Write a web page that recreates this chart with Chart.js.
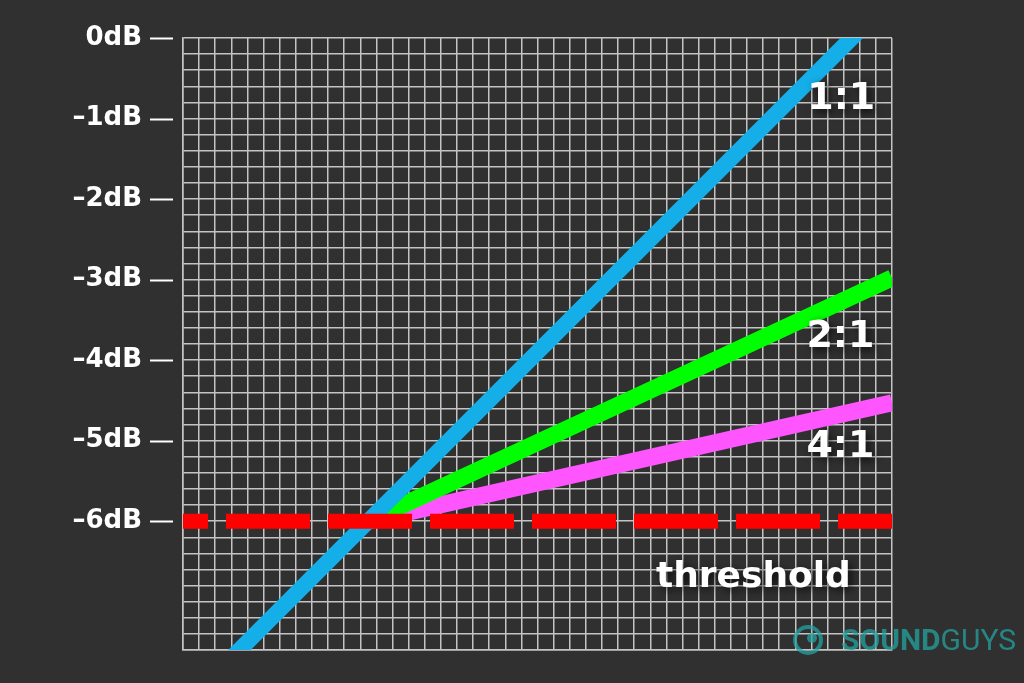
<!DOCTYPE html>
<html lang="en">
<head>
    <meta charset="UTF-8">
    <title>Compression ratios</title>
    <script src="https://cdn.jsdelivr.net/npm/chart.js"></script>
    <style>
        html, body {
            margin: 0;
            padding: 0;
            background: #303030;
        }
        .chart-container {
            width: 1024px;
            height: 683px;
        }
    </style>
</head>
<body>
    <div class="chart-container">
        <canvas id="ratioChart" width="1024" height="683"></canvas>
    </div>

    <script>
        // values (input dB -> output dB)
        const yTickLabels = ['0dB', '–1dB', '–2dB', '–3dB', '–4dB', '–5dB', '–6dB'];
        const unityIn = [-8, -6, 0.4];
        const unityOut = [-8, -6, 0.4];
        const twoToOneIn = [-6, 0.5];
        const twoToOneOut = [-6, -2.98];
        const fourToOneIn = [-6, 0.5];
        const fourToOneOut = [-6, -4.53];
        const thresholdIn = [-8.3, 0.5];
        const thresholdOut = [-6, -6];

        const ratioLabels = ['1:1', '2:1', '4:1', 'threshold'];
        const labelIn = [-0.13, -0.14, -0.14, -1.22];
        const labelOut = [-0.76, -3.71, -5.08, -6.70];

        const xMin = -8.3, xMax = 0.5;
        const yMin = -7.6, yMax = 0;

        function toPoints(xs, ys) {
            return xs.map((x, i) => ({ x: x, y: ys[i] }));
        }

        const gridColor = '#c4c4c4';

        const extras = {
            id: 'extras',
            afterDraw(chart) {
                const ctx = chart.ctx;
                const xs = chart.scales.x;
                const ys = chart.scales.y;
                const left = chart.chartArea.left;

                // short tick dashes next to the dB labels
                ctx.save();
                ctx.strokeStyle = '#ffffff';
                ctx.lineWidth = 2;
                for (let i = 0; i < yTickLabels.length; i++) {
                    const py = Math.round(ys.getPixelForValue(-i)) + 0.5;
                    ctx.beginPath();
                    ctx.moveTo(left - 33, py);
                    ctx.lineTo(left - 10, py);
                    ctx.stroke();
                }
                ctx.restore();

                // series labels
                ctx.save();
                ctx.fillStyle = '#ffffff';
                ctx.textAlign = 'center';
                ctx.textBaseline = 'middle';
                ctx.shadowColor = 'rgba(0,0,0,0.75)';
                ctx.shadowBlur = 8;
                ctx.shadowOffsetX = 3;
                ctx.shadowOffsetY = 3;
                ratioLabels.forEach((t, i) => {
                    ctx.font = t === 'threshold' ? 'bold 36px "DejaVu Sans"' : 'bold 38px "DejaVu Sans"';
                    ctx.fillText(t, xs.getPixelForValue(labelIn[i]), ys.getPixelForValue(labelOut[i]));
                });
                ctx.restore();

                // watermark
                ctx.save();
                ctx.globalAlpha = 0.75;
                ctx.fillStyle = '#22a3a0';
                ctx.strokeStyle = '#22a3a0';
                ctx.textBaseline = 'alphabetic';
                ctx.textAlign = 'left';
                ctx.font = 'bold 30px Roboto';
                ctx.fillText('SOUND', 841, 650);
                const w = ctx.measureText('SOUND').width;
                ctx.font = '30px Roboto';
                ctx.fillText('GUYS', 841 + w, 650);
                ctx.lineWidth = 4;
                ctx.beginPath();
                ctx.arc(808, 640, 13, 0, Math.PI * 2);
                ctx.stroke();
                ctx.beginPath();
                ctx.arc(812, 638, 5, 0, Math.PI * 2);
                ctx.fill();
                ctx.restore();
            }
        };

        new Chart(document.getElementById('ratioChart'), {
            type: 'line',
            data: {
                datasets: [
                    {
                        label: 'threshold',
                        data: toPoints(thresholdIn, thresholdOut),
                        borderColor: '#ff0000',
                        borderWidth: 15,
                        borderDash: [84, 18],
                        borderDashOffset: 59,
                        borderCapStyle: 'butt',
                        pointRadius: 0,
                        clip: 0,
                        order: 0
                    },
                    {
                        label: '1:1',
                        data: toPoints(unityIn, unityOut),
                        borderColor: '#14aee8',
                        borderWidth: 16,
                        pointRadius: 0,
                        clip: 0,
                        order: 1
                    },
                    {
                        label: '2:1',
                        data: toPoints(twoToOneIn, twoToOneOut),
                        borderColor: '#00ff00',
                        borderWidth: 17,
                        pointRadius: 0,
                        clip: 0,
                        order: 2
                    },
                    {
                        label: '4:1',
                        data: toPoints(fourToOneIn, fourToOneOut),
                        borderColor: '#ff55ff',
                        borderWidth: 17,
                        pointRadius: 0,
                        clip: 0,
                        order: 3
                    }
                ]
            },
            options: {
                responsive: false,
                animation: false,
                events: [],
                layout: {
                    padding: { top: 38, right: 132, bottom: 33, left: 0 }
                },
                plugins: {
                    legend: { display: false },
                    tooltip: { enabled: false }
                },
                scales: {
                    x: {
                        type: 'linear',
                        min: xMin,
                        max: xMax,
                        afterBuildTicks: (axis) => {
                            const ticks = [];
                            for (let k = 0; k <= 44; k++) {
                                ticks.push({ value: Math.round((xMin + k * 0.2) * 1000) / 1000 });
                            }
                            axis.ticks = ticks;
                        },
                        afterFit: (axis) => {
                            axis.height = 0;
                            axis.paddingLeft = 0;
                            axis.paddingRight = 0;
                        },
                        ticks: { display: false, autoSkip: false },
                        grid: { color: gridColor, lineWidth: 1.5, drawTicks: false },
                        border: { color: gridColor, width: 1.5 }
                    },
                    y: {
                        min: yMin,
                        max: yMax,
                        afterFit: (axis) => {
                            axis.width = 183;
                            axis.paddingTop = 0;
                            axis.paddingBottom = 0;
                        },
                        ticks: {
                            stepSize: 0.2,
                            autoSkip: false,
                            padding: 41,
                            color: '#ffffff',
                            font: { family: 'DejaVu Sans', size: 26, weight: 'bold' },
                            callback: (value) => {
                                const r = Math.round(value);
                                if (Math.abs(value - r) < 1e-6 && r <= 0 && r >= -6) {
                                    return yTickLabels[-r];
                                }
                                return '';
                            }
                        },
                        grid: { color: gridColor, lineWidth: 1.5, drawTicks: false },
                        border: { color: gridColor, width: 1.5 }
                    }
                }
            },
            plugins: [extras]
        });
    </script>
</body>
</html>
